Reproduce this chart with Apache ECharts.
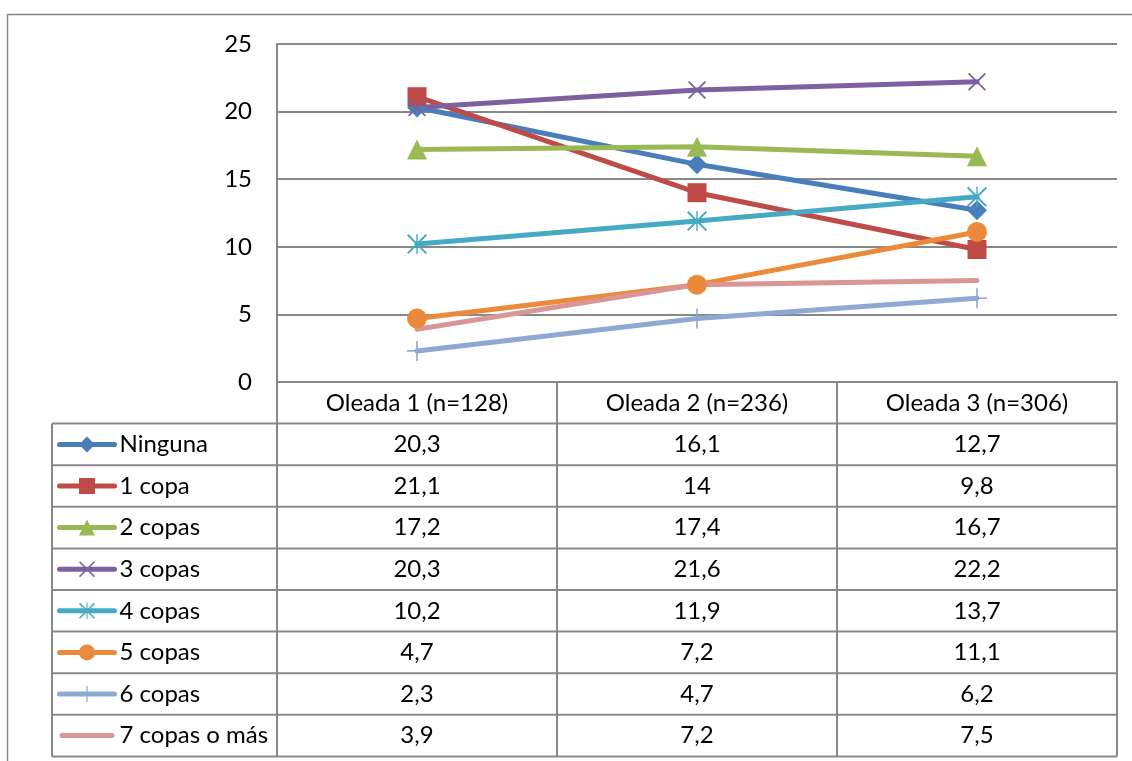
<!DOCTYPE html>
<html>
<head>
<meta charset="utf-8">
<style>
html,body{margin:0;padding:0;background:#fff;}
#chart{width:1132px;height:761px;}
</style>
<script src="https://cdn.jsdelivr.net/npm/echarts@6/dist/echarts.min.js"></script>
</head>
<body>
<div id="chart"></div>
<script>
// ---- Data ----
var categories = ['Oleada 1 (n=128)', 'Oleada 2 (n=236)', 'Oleada 3 (n=306)'];
var seriesNames = ['Ninguna', '1 copa', '2 copas', '3 copas', '4 copas', '5 copas', '6 copas', '7 copas o más'];
var ninguna = [20.3, 16.1, 12.7];
var copa1 = [21.1, 14, 9.8];
var copas2 = [17.2, 17.4, 16.7];
var copas3 = [20.3, 21.6, 22.2];
var copas4 = [10.2, 11.9, 13.7];
var copas5 = [4.7, 7.2, 11.1];
var copas6 = [2.3, 4.7, 6.2];
var copas7 = [3.9, 7.2, 7.5];
var yTicks = [0, 5, 10, 15, 20, 25];

var seriesValues = [ninguna, copa1, copas2, copas3, copas4, copas5, copas6, copas7];

// ---- Styles ----
var FONT = 'Lato';
var FS = 24;
var GRID = {left: 277, right: 15, top: 44, bottom: 379};
var W = 1132, H = 761;
var colors = ['#4A7EBB', '#BE4B48', '#98B954', '#7D60A0', '#46AAC5', '#EC8A3C', '#8EA9D3', '#D99694'];
var SYM_X = 'path://M0,1.4 L1.4,0 L10,8.6 L18.6,0 L20,1.4 L11.4,10 L20,18.6 L18.6,20 L10,11.4 L1.4,20 L0,18.6 L8.6,10 Z';
var SYM_AST = 'path://M0,1.4 L1.4,0 L10,8.6 L18.6,0 L20,1.4 L11.4,10 L20,18.6 L18.6,20 L10,11.4 L1.4,20 L0,18.6 L8.6,10 Z M9.3,0 L10.7,0 L10.7,20 L9.3,20 Z';
var SYM_PLUS = 'path://M9.2,0 L10.8,0 L10.8,20 L9.2,20 Z M0,9.2 L20,9.2 L20,10.8 L0,10.8 Z';
var SYM_BAR = 'path://M2.5,0 L52.5,0 A2.5,2.5 0 0 1 52.5,5 L2.5,5 A2.5,2.5 0 0 1 2.5,0 Z';
var symbols = ['diamond', 'rect', 'triangle', SYM_X, SYM_AST, 'circle', SYM_PLUS, 'none'];
var symbolSizes = [20, 19, 20, 18, 20, 20, 20, 0];

function fmt(v) { return String(v).replace('.', ','); }

var series = seriesNames.map(function (name, i) {
  return {
    name: name,
    type: 'line',
    data: seriesValues[i],
    symbol: symbols[i],
    symbolSize: symbolSizes[i],
    showSymbol: symbols[i] !== 'none',
    lineStyle: {color: colors[i], width: 5, cap: 'round', join: 'round'},
    itemStyle: {color: colors[i]},
    animation: false,
    emphasis: {disabled: true}
  };
});

var legendData = seriesNames.map(function (name, i) {
  if (symbols[i] === 'none') {
    return {name: name, icon: SYM_BAR, itemStyle: {color: colors[i]}};
  }
  return {name: name};
});

// ---- Table graphics built from layout ----
var plotLeft = GRID.left, plotRight = W - GRID.right;
var axisY = H - GRID.bottom;
var rowH = 41.6;
var tableLeft = 52;
var lineColor = '#888888';
var graphics = [];
graphics.push({type: 'rect', shape: {x: 7.5, y: 14.5, width: 1140, height: 760}, style: {fill: null, stroke: '#888888', lineWidth: 1.5}, silent: true});
var colW = (plotRight - plotLeft) / categories.length;
var nRows = seriesNames.length;
var tableBottom = axisY + rowH * (nRows + 1);
for (var r = 1; r <= nRows + 1; r++) {
  var y = axisY + rowH * r;
  graphics.push({type: 'line', shape: {x1: tableLeft, y1: y, x2: plotRight, y2: y}, style: {stroke: lineColor, lineWidth: 2}, silent: true});
}
for (var c = 0; c <= categories.length; c++) {
  var x = plotLeft + colW * c;
  graphics.push({type: 'line', shape: {x1: x, y1: axisY, x2: x, y2: tableBottom}, style: {stroke: lineColor, lineWidth: 2}, silent: true});
}
graphics.push({type: 'line', shape: {x1: tableLeft, y1: axisY + rowH, x2: tableLeft, y2: tableBottom}, style: {stroke: lineColor, lineWidth: 2}, silent: true});
for (var i = 0; i < nRows; i++) {
  for (var j = 0; j < categories.length; j++) {
    graphics.push({
      type: 'text',
      x: plotLeft + colW * (j + 0.5),
      y: axisY + rowH * (i + 1.5),
      style: {text: fmt(seriesValues[i][j]), font: FS + 'px ' + FONT, fill: '#000', align: 'center', verticalAlign: 'middle'},
      silent: true
    });
  }
}

var chart = echarts.init(document.getElementById('chart'), null, {renderer: 'canvas'});
chart.setOption({
  backgroundColor: '#ffffff',
  animation: false,
  grid: {left: GRID.left, right: GRID.right, top: GRID.top, bottom: GRID.bottom, containLabel: false},
  xAxis: {
    type: 'category',
    data: categories,
    boundaryGap: true,
    axisLine: {show: true, lineStyle: {color: lineColor, width: 2}},
    axisTick: {show: false},
    axisLabel: {fontFamily: FONT, fontSize: FS, color: '#000', margin: 9, interval: 0},
    splitLine: {show: false}
  },
  yAxis: {
    type: 'value',
    min: yTicks[0],
    max: yTicks[yTicks.length - 1],
    interval: yTicks[1] - yTicks[0],
    axisLine: {show: true, lineStyle: {color: lineColor, width: 2}},
    axisTick: {show: false},
    axisLabel: {fontFamily: FONT, fontSize: FS, color: '#000', margin: 25, formatter: function (v) { return fmt(v); }},
    splitLine: {show: true, lineStyle: {color: lineColor, width: 2}}
  },
  legend: {
    orient: 'vertical',
    left: 57,
    top: axisY + rowH * 1.5 - 12,
    itemWidth: 55,
    itemHeight: 20,
    itemGap: rowH - 24,
    padding: 0,
    selectedMode: false,
    lineStyle: {width: 5, cap: 'round'},
    textStyle: {fontFamily: FONT, fontSize: FS, color: '#000', lineHeight: 24},
    data: legendData
  },
  graphic: graphics,
  series: series
});
</script>
</body>
</html>
